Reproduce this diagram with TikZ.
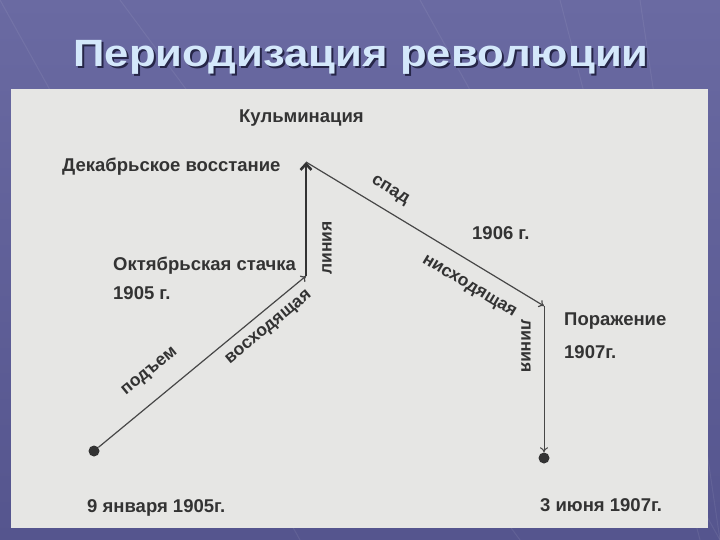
\documentclass[tikz,border=0pt]{standalone}
\usepackage{fontspec}
\usepackage{graphicx}
\setmainfont{Liberation Sans}
\usetikzlibrary{arrows.meta}
\definecolor{bgtop}{HTML}{6A6AA2}
\definecolor{bgbot}{HTML}{55558E}
\definecolor{panelc}{HTML}{E6E6E4}
\definecolor{ink}{HTML}{333333}
\definecolor{titlecol}{HTML}{D4E8FB}
\definecolor{titleshadow}{HTML}{262648}
\newcommand{\ttl}{\scalebox{1.15}[1]{Периодизация революции}}
\newcommand{\shadowedtitle}{\makebox[0pt][l]{\hspace{2pt}\raisebox{-2pt}{\textcolor{titleshadow}{\ttl}}}\textcolor{titlecol}{\ttl}}
\begin{document}
\begin{tikzpicture}[x=1pt,y=-1pt,
  lbl/.style={inner sep=0pt, text=ink, font=\fontsize{18.5}{21}\selectfont\bfseries},
  rlbl/.style={lbl, font=\fontsize{17.5}{21}\selectfont\bfseries},
  dot/.style={circle, fill=ink, inner sep=0pt, minimum size=11pt},
  thinline/.style={draw=ink!90, line width=1.2pt},
  thickline/.style={draw=ink, line width=2.6pt},
  tip/.style={-{To[length=5pt,width=8pt]}},
  titlefont/.style={font=\fontsize{38}{40}\selectfont\bfseries, anchor=base, inner sep=0pt}]
\useasboundingbox (0,0) rectangle (720,540);
\shade[top color=bgtop, bottom color=bgbot] (0,0) rectangle (720,540);
\foreach \a/\b in {0/300, 120/520, 420/720, 560/700, 640/720}
  \draw[white, opacity=0.07, line width=1pt] (\a,0) -- (\b,540);
% title
\node[titlefont] (title) at (361,67) {\shadowedtitle};
% panel
\fill[panelc] (11,89) rectangle (708,528);
% points
\node[dot] (start) at (94,451) {};
\coordinate (oct) at (306,276);
\coordinate (peak) at (306,162);
\coordinate (defeat) at (544,306);
\node[dot] (end) at (544,458) {};
% connectors
\draw[thinline, tip] (start) -- (oct);
\draw[thickline, -{Straight Barb[length=6pt,width=11pt]}] (oct) -- (peak);
\draw[thinline, tip] (peak) -- (defeat);
\draw[thinline, line width=1pt, tip] (defeat) -- (end);
% labels
\node[lbl, anchor=base west] (kulm) at (239,123) {Кульминация};
\node[lbl, anchor=base west] (dek) at (62,172) {Декабрьское восстание};
\node[lbl, anchor=base west] (okt) at (113,270) {Октябрьская стачка};
\node[lbl, anchor=base west] (y1905) at (113,299) {1905 г.};
\node[lbl, anchor=base west] (y1906) at (472,240) {1906 г.};
\node[lbl, anchor=base west] (por) at (564,325) {Поражение};
\node[lbl, anchor=base west] (y1907) at (564,358) {1907г.};
\node[lbl, anchor=base west] (jan) at (87,512) {9 января 1905г.};
\node[lbl, anchor=base west] (jun) at (540,511) {3 июня 1907г.};
\node[rlbl, rotate=39.5] (podem) at (150,372) {подъем};
\node[rlbl, rotate=39.5] (voskh) at (269,328) {восходящая};
\node[rlbl, rotate=-31] (spad) at (390,191) {спад};
\node[rlbl, rotate=-31] (nisk) at (469,287) {нисходящая};
\node[rlbl, rotate=90] (lin1) at (327,248) {линия};
\node[rlbl, rotate=-90] (lin2) at (526,346) {линия};
\end{tikzpicture}
\end{document}
